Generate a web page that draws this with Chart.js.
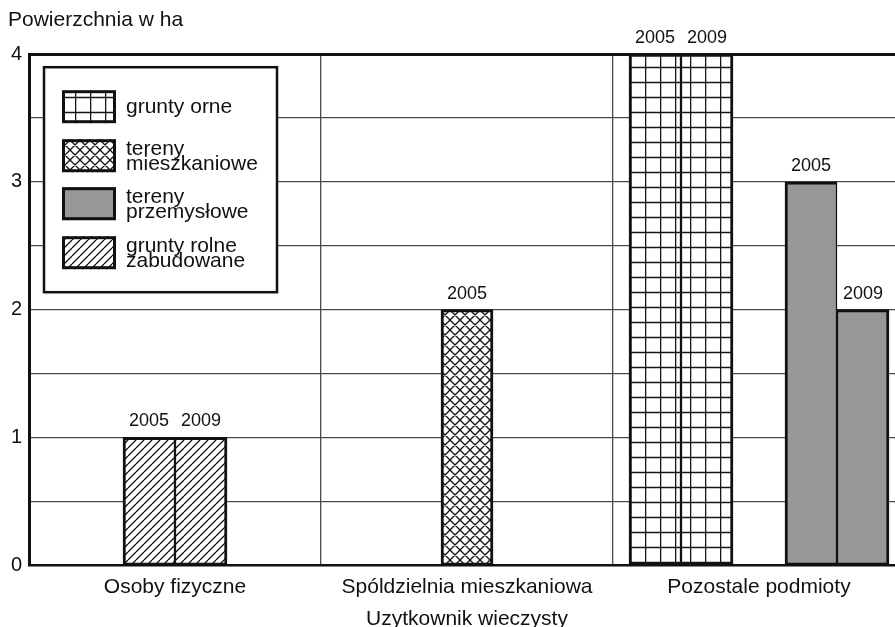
<!DOCTYPE html>
<html>
<head>
<meta charset="utf-8">
<script src="https://cdn.jsdelivr.net/npm/chart.js@4.4.0/dist/chart.umd.min.js"></script>
<style>
  html, body { margin: 0; padding: 0; background: #fff; }
  #wrap { width: 895px; height: 627px; overflow: hidden; }
  canvas { display: block; }
</style>
</head>
<body>
<div id="wrap"><canvas id="chart" width="910" height="632"></canvas></div>
<script>
// categories and values (ha)
const categories = ['Osoby fizyczne', 'Spóldzielnia mieszkaniowa', 'Pozostale podmioty'];
const rolne2005 = [1, null, null];
const rolne2009 = [1, null, null];
const mieszkaniowe2005 = [null, 2, null];
const orne2005 = [null, null, 4];
const orne2009 = [null, null, 4];
const spacer = [null, null, 0]; // empty slot between the two pairs
const przemyslowe2005 = [null, null, 3];
const przemyslowe2009 = [null, null, 2];

const yTicks = [0, 1, 2, 3, 4];
const legendLabels = [
    ['grunty orne'],
    ['tereny', 'mieszkaniowe'],
    ['tereny', 'przemysłowe'],
    ['grunty rolne', 'zabudowane']
];

const FONT = "'Liberation Sans', Arial, sans-serif";
const INK = '#111';

// hatch fills
function makePattern(kind) {
    const c = document.createElement('canvas');
    const size = kind === 'grid' ? 15 : kind === 'cross' ? 10 : 8;
    c.width = size;
    c.height = size;
    const g = c.getContext('2d');
    g.fillStyle = '#fff';
    g.fillRect(0, 0, size, size);
    g.strokeStyle = '#151515';
    g.lineWidth = kind === 'grid' ? 1.6 : 1.35;
    g.beginPath();
    if (kind === 'grid') {
        g.moveTo(0.5, 0); g.lineTo(0.5, size);
        g.moveTo(0, 7.5); g.lineTo(size, 7.5);
    } else if (kind === 'cross') {
        for (const k of [-size, 0, size]) {
            g.moveTo(k, 0); g.lineTo(k + size, size);
            g.moveTo(k, size); g.lineTo(k + size, 0);
        }
    } else {
        for (const k of [-size, 0, size]) {
            g.moveTo(k, size); g.lineTo(k + size, 0);
        }
    }
    g.stroke();
    return g.createPattern(c, 'repeat');
}

const fills = {
    grid: makePattern('grid'),
    cross: makePattern('cross'),
    solid: '#979797',
    diag: makePattern('diag')
};
const legendFills = [fills.grid, fills.cross, fills.solid, fills.diag];

const firstOfPair = { left: 3, right: 1.5, top: 3, bottom: 2 };
const secondOfPair = { left: 1.5, right: 3, top: 3, bottom: 2 };
const single = { left: 3, right: 3, top: 3, bottom: 2 };

function barSet(data, fill, year, border) {
    return {
        data: data,
        year: year,
        backgroundColor: fill,
        borderColor: INK,
        borderWidth: border,
        borderSkipped: false
    };
}

const datasets = [
    barSet(rolne2005, fills.diag, '2005', firstOfPair),
    barSet(rolne2009, fills.diag, '2009', secondOfPair),
    barSet(mieszkaniowe2005, fills.cross, '2005', single),
    barSet(orne2005, fills.grid, '2005', firstOfPair),
    barSet(orne2009, fills.grid, '2009', secondOfPair),
    { data: spacer, backgroundColor: 'rgba(0,0,0,0)', borderWidth: 0 },
    barSet(przemyslowe2005, fills.solid, '2005', firstOfPair),
    barSet(przemyslowe2009, fills.solid, '2009', secondOfPair)
];

// year labels above bars
const yearLabels = {
    id: 'yearLabels',
    afterDatasetsDraw(chart) {
        const ctx = chart.ctx;
        ctx.save();
        ctx.font = '18px ' + FONT;
        ctx.fillStyle = INK;
        ctx.textAlign = 'center';
        ctx.textBaseline = 'alphabetic';
        chart.data.datasets.forEach((ds, i) => {
            if (!ds.year) return;
            chart.getDatasetMeta(i).data.forEach((bar, j) => {
                if (ds.data[j] == null) return;
                ctx.fillText(ds.year, bar.x, bar.y - 11);
            });
        });
        ctx.restore();
    }
};

// boxed legend inside the plot, two-line labels
const boxLegend = {
    id: 'boxLegend',
    afterDraw(chart) {
        const ctx = chart.ctx;
        const a = chart.chartArea;
        const left = a.left + 15, top = a.top + 13;
        ctx.save();
        ctx.fillStyle = '#fff';
        ctx.fillRect(left, top, 233, 225);
        ctx.strokeStyle = INK;
        ctx.lineWidth = 2.5;
        ctx.strokeRect(left, top, 233, 225);

        const rowTops = [23, 72, 120, 169];
        ctx.font = '21px ' + FONT;
        ctx.textAlign = 'left';
        ctx.textBaseline = 'alphabetic';
        legendLabels.forEach((lines, i) => {
            const sx = left + 18, sy = top + rowTops[i];
            ctx.fillStyle = legendFills[i];
            ctx.fillRect(sx, sy, 54, 33);
            ctx.lineWidth = 3;
            ctx.strokeStyle = INK;
            ctx.strokeRect(sx + 1.5, sy + 1.5, 51, 30);
            ctx.fillStyle = INK;
            if (lines.length === 1) {
                ctx.fillText(lines[0], left + 82, sy + 23);
            } else {
                ctx.fillText(lines[0], left + 82, sy + 16);
                ctx.fillText(lines[1], left + 82, sy + 31);
            }
        });
        ctx.restore();
    }
};

new Chart(document.getElementById('chart'), {
    type: 'bar',
    data: { labels: categories, datasets: datasets },
    plugins: [yearLabels, boxLegend],
    options: {
        responsive: false,
        animation: false,
        events: [],
        layout: { padding: { left: 8, right: 5, top: 0, bottom: 0 } },
        datasets: { bar: { skipNull: true, barThickness: 52 } },
        plugins: {
            legend: { display: false },
            tooltip: { enabled: false },
            title: {
                display: true,
                text: 'Powierzchnia w ha',
                align: 'start',
                color: INK,
                font: { family: FONT, size: 21, weight: 'normal', lineHeight: 1.2 },
                padding: { top: 8, bottom: 21 }
            }
        },
        scales: {
            x: {
                afterFit(scale) { scale.height = 67; },
                grid: { offset: true, drawTicks: false, color: '#4a4a4a', lineWidth: 1.3 },
                border: { color: INK, width: 2.5 },
                ticks: { color: INK, padding: 12, font: { family: FONT, size: 21, lineHeight: 1 } },
                title: {
                    display: true,
                    text: 'Uzytkownik wieczysty',
                    color: INK,
                    font: { family: FONT, size: 21, lineHeight: 1 },
                    padding: { top: 5, bottom: 2 }
                }
            },
            y: {
                min: 0,
                max: 4,
                afterFit(scale) { scale.width = 21; },
                grid: {
                    drawTicks: false,
                    color: (c) => c.tick && c.tick.value === 4 ? INK : '#4a4a4a',
                    lineWidth: (c) => c.tick && c.tick.value === 4 ? 3 : 1.3
                },
                border: { color: INK, width: 3 },
                ticks: {
                    stepSize: 0.5,
                    padding: 7,
                    color: INK,
                    font: { family: FONT, size: 20 },
                    callback: (v) => yTicks.includes(v) ? String(v) : ''
                }
            }
        }
    }
});
</script>
</body>
</html>
